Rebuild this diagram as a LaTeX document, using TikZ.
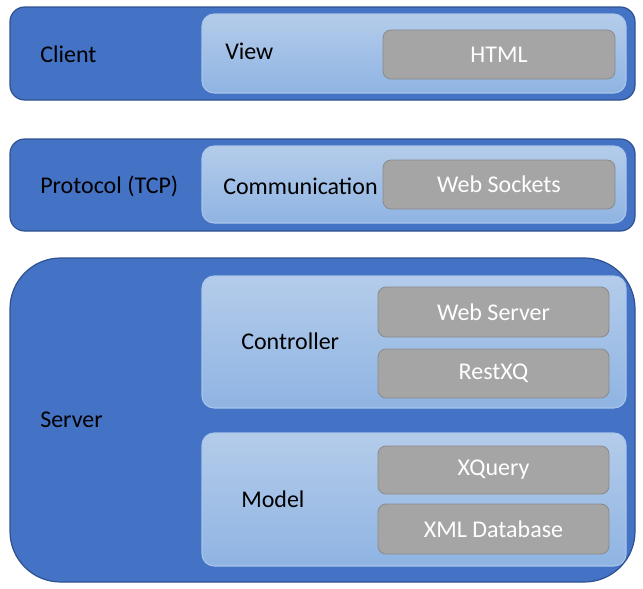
\documentclass[tikz,border=0pt]{standalone}
\usepackage{fontspec}
\setmainfont{Carlito}
\usetikzlibrary{fit}
\definecolor{outerblue}{HTML}{4472C4}
\definecolor{outerline}{HTML}{2F528F}
\definecolor{innertop}{HTML}{B4CCEA}
\definecolor{innerbot}{HTML}{8FB4E3}
\definecolor{innerline}{HTML}{A9C5EA}
\definecolor{grayfill}{HTML}{A5A5A5}
\definecolor{grayline}{HTML}{8A8A8A}
\tikzset{
  outerbox/.style={draw=outerline, fill=outerblue, line width=0.9pt, inner sep=0pt},
  innerbox/.style={draw=innerline, top color=innertop, bottom color=innerbot, line width=0.8pt, inner sep=0pt, rounded corners=9pt},
  compbox/.style={draw=grayline, fill=grayfill, line width=0.6pt, inner sep=0pt, rounded corners=6pt,
    font=\fontsize{18}{20}\selectfont, text=white},
  lbl/.style={anchor=west, inner sep=0pt, font=\fontsize{18}{20}\selectfont, text=black},
}
\begin{document}
\begin{tikzpicture}[x=0.75pt, y=-0.75pt]
\useasboundingbox (0,0) rectangle (643,589);
% Client layer
\node[outerbox, rounded corners=11pt, fit={(10,7)(635,100)}] (client) {};
\node[innerbox, fit={(202,14)(626,93)}] (view) {};
\node[compbox, fit={(383,30)(615,79)}] (htmlbox) {};
\node[text=white, font=\fontsize{18}{20}\selectfont] (html) at (htmlbox.center) {HTML};
\node[lbl] (clientlbl) at (40,54) {Client};
\node[lbl] (viewlbl) at (225,51) {View};
% Protocol layer
\node[outerbox, rounded corners=11pt, fit={(10,139)(635,231)}] (protocol) {};
\node[innerbox, fit={(202,146)(626,223)}] (comm) {};
\node[compbox, fit={(383,160)(615,209)}] (wsbox) {};
\node[text=white, font=\fontsize{18}{20}\selectfont] (ws) at (wsbox.center) {Web Sockets};
\node[lbl] (protolbl) at (40,186) {Protocol (TCP)};
\node[lbl] (commlbl) at (223,186) {Communication};
% Server layer
\node[outerbox, rounded corners=38pt, fit={(10,258)(635,582)}] (server) {};
\node[innerbox, fit={(202,276)(626,408)}] (controller) {};
\node[compbox, fit={(378,287)(609,337)}] (websrvbox) {};
\node[text=white, font=\fontsize{18}{20}\selectfont] (websrv) at (websrvbox.center) {Web Server};
\node[compbox, fit={(378,349)(609,398)}] (restbox) {};
\node[text=white, font=\fontsize{18}{20}\selectfont] (rest) at (restbox.center) {RestXQ};
\node[innerbox, fit={(202,433)(626,566)}] (model) {};
\node[compbox, fit={(378,446)(609,494)}] (xqbox) {};
\node[text=white, font=\fontsize{18}{20}\selectfont] (xq) at (xqbox.center) {XQuery};
\node[compbox, fit={(378,504)(609,554)}] (xmlbox) {};
\node[text=white, font=\fontsize{18}{20}\selectfont] (xml) at (xmlbox.center) {XML Database};
\node[lbl] (serverlbl) at (40,420) {Server};
\node[lbl] (ctrllbl) at (241,341) {Controller};
\node[lbl] (modellbl) at (241,499) {Model};
\end{tikzpicture}
\end{document}
